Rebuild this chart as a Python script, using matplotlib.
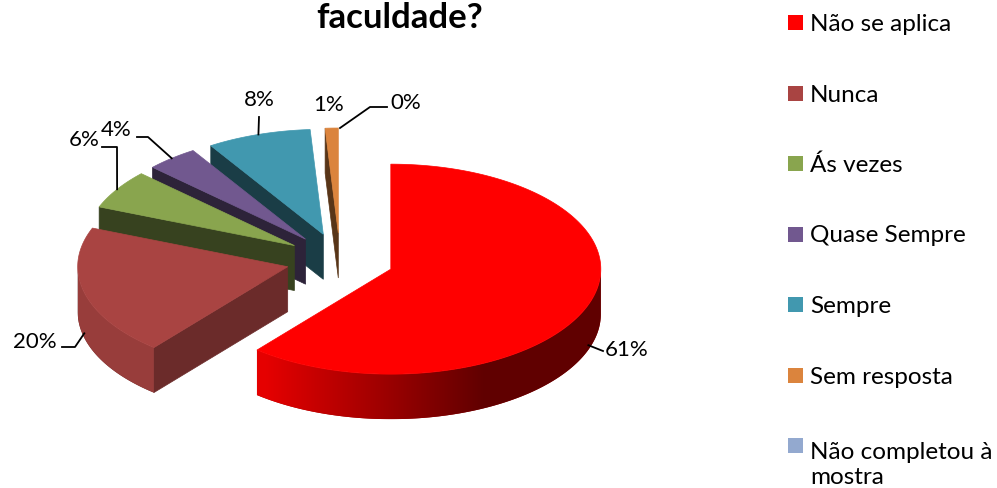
import numpy as np
import matplotlib
matplotlib.use('Agg')
import matplotlib.pyplot as plt
from matplotlib.patches import Polygon, Rectangle
from matplotlib.colors import to_rgb

# ---------------- data ----------------
categories = ['Não se aplica', 'Nunca', 'Ás vezes', 'Quase Sempre',
              'Sempre', 'Sem resposta', 'Não completou à mostra']
values = [61, 20, 6, 4, 8, 1, 0]
pct_labels = ['61%', '20%', '6%', '4%', '8%', '1%', '0%']
legend_labels = ['Não se aplica', 'Nunca', 'Ás vezes', 'Quase Sempre',
                 'Sempre', 'Sem resposta', 'Não completou à\nmostra']
colors = ['#FF0000', '#A94442', '#89A54E', '#71588F',
          '#4198AF', '#DB843D', '#93A9CF']
title = 'faculdade?'

# ---------------- layout (pixels) ----------------
W, H = 997, 489
CX, CY = 340, 261      # pie centre
R = 210                # horizontal radius
K = 0.5                # vertical squash (tilt)
DEPTH = 45             # thickness
EXPLODE = 54           # explode distance
FONT = ['Lato', 'DejaVu Sans']

label_pos = [(627, 350), (35, 342), (84, 140), (116, 130),
             (259, 100), (329, 105), (406, 103)]
leader_drop = [0.9, 0.9, 0, 0, 0, 0, 0]
leader_path = [[(603, 352)], [(75, 348), (62, 348)], [(117, 148), (102, 148)],
               [(148, 138), (137, 138)], [(259, 118)], None,
               [(370, 108), (387, 108)]]

fig = plt.figure(figsize=(W / 100, H / 100), dpi=100)
ax = fig.add_axes([0, 0, 1, 1])
ax.axis('off')


def shade(c, f):
    r, g, b = to_rgb(c)
    return (min(1, r * f), min(1, g * f), min(1, b * f))


def wall_factor(cos_t):
    return np.clip(0.6 - 0.5 * cos_t, 0.38, 0.9)


def rim(t, off, dz=0.0):
    t = np.radians(t)
    return (CX + off[0] + R * np.cos(t), CY + off[1] - K * R * np.sin(t) + dz)


total = float(sum(values))
fr = np.concatenate([[0], np.cumsum(values)]) / total
slices = []
for i, v in enumerate(values):
    a_start = 90 - 360 * fr[i]
    a_end = 90 - 360 * fr[i + 1]
    mid = np.radians((a_start + a_end) / 2)
    off = (EXPLODE * np.cos(mid), -K * EXPLODE * np.sin(mid))
    slices.append((i, v, a_start, a_end, off))

order = sorted([s for s in slices if s[1] > 0], key=lambda s: s[4][1])
z = 1
for i, v, a_start, a_end, off in order:
    col = colors[i]
    apex = (CX + off[0], CY + off[1])
    apex_b = (apex[0], apex[1] + DEPTH)
    # radial faces
    for theta, normal in ((a_end, a_end - 90), (a_start, a_start + 90)):
        if np.sin(np.radians(normal)) < -1e-6:
            f = 0.4 + 0.3 * max(0.0, np.cos(np.radians(normal)))
            p_t = rim(theta, off)
            p_b = rim(theta, off, DEPTH)
            ax.add_patch(Polygon([apex, p_t, p_b, apex_b], closed=True,
                                 facecolor=shade(col, f), edgecolor=shade(col, f),
                                 lw=0.5, zorder=z))
    # curved wall (front half only), smooth horizontal gradient
    lo, hi = max(a_end, -180.0), min(a_start, 0.0)
    if lo < -360:
        lo = -360
    if hi > lo:
        ts = np.linspace(lo, hi, 200)
        top = [rim(t, off) for t in ts]
        bot = [rim(t, off, DEPTH) for t in ts[::-1]]
        poly = Polygon(top + bot, closed=True, zorder=z,
                       facecolor=shade(col, 0.6), edgecolor='none')
        ax.add_patch(poly)
        xs = np.array([p[0] for p in top])
        x0, x1 = xs.min(), xs.max()
        ys = [p[1] for p in top + bot]
        gx = np.linspace(x0, x1, 400)
        ct = (gx - (CX + off[0])) / R
        img = np.array([[shade(col, wall_factor(c)) for c in ct]])
        im = ax.imshow(img, extent=(x0, x1, max(ys), min(ys)), aspect='auto',
                       interpolation='bilinear', zorder=z + 0.1)
        im.set_clip_path(poly)
    # top face
    tt = np.linspace(a_end, a_start, max(2, int(abs(a_start - a_end) * 2)))
    pts = [apex] + [rim(t, off) for t in tt]
    ax.add_patch(Polygon(pts, closed=True, facecolor=col, edgecolor=col,
                         lw=0.5, zorder=z + 0.5))
    z += 1

# data labels with leader lines
for i, v, a_start, a_end, off in slices:
    mid = (a_start + a_end) / 2
    if leader_path[i] is not None:
        anchor = rim(mid, off, leader_drop[i] * DEPTH)
        xs = [anchor[0]] + [p[0] for p in leader_path[i]]
        ys = [anchor[1]] + [p[1] for p in leader_path[i]]
        ax.plot(xs, ys, color='black', lw=1.3, zorder=20)
    ax.text(label_pos[i][0], label_pos[i][1], pct_labels[i], ha='center',
            va='center', fontsize=16, family=FONT, color='black', zorder=21)

# title (partly cut at top as in the reference)
ax.text(400, 28, title, ha='center', va='baseline', fontsize=25,
        fontweight='bold', family=FONT, color='black')

# legend
LX, LY0, LSTEP, BOX, LINE = 788, 31, 70.5, 15, 30
for j, (lab, col) in enumerate(zip(legend_labels, colors)):
    yb = LY0 + j * LSTEP
    ax.add_patch(Rectangle((LX, yb - BOX), BOX, BOX, facecolor=col,
                           edgecolor='none', zorder=5))
    nl = lab.count('\n')
    ax.text(LX + 22, yb + nl * LINE, lab, ha='left', va='baseline', fontsize=17.5,
            family=FONT, color='black', linespacing=1.25)

ax.set_xlim(0, W)
ax.set_ylim(H, 0)
fig.savefig('out.png', dpi=100)
